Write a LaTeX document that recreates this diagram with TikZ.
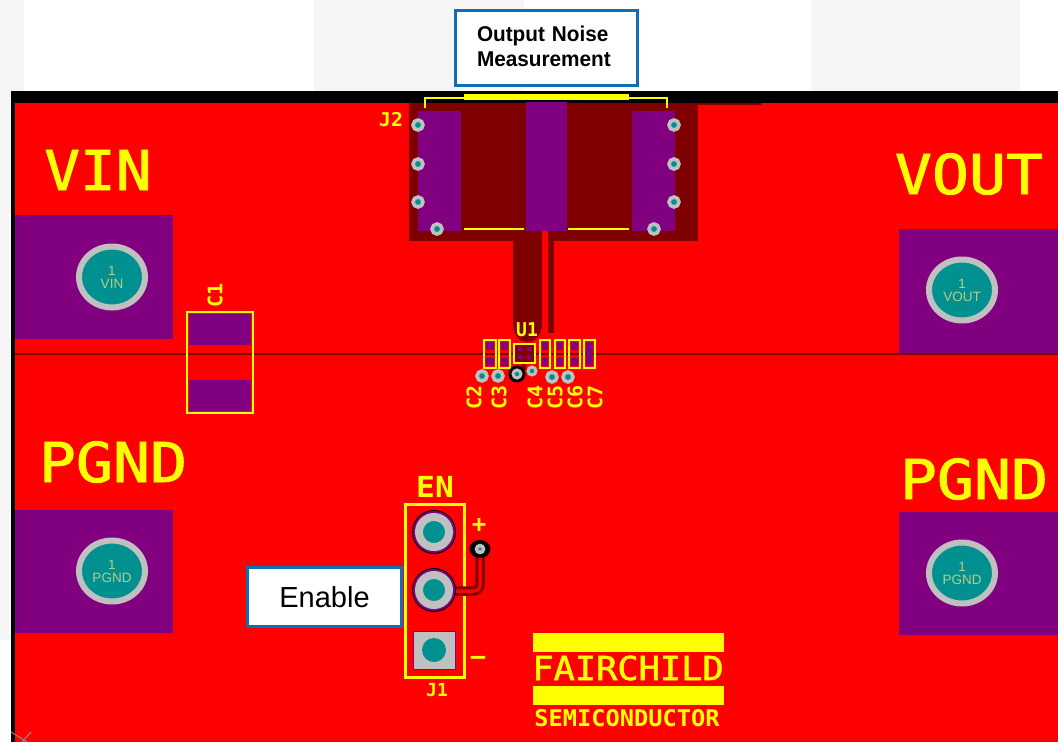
\documentclass[tikz,border=0pt]{standalone}
\usepackage{fontspec}
\setmainfont{Liberation Sans}
\newfontfamily\silkfont{DejaVu Sans Mono}
\newfontfamily\bigsilkfont[FakeBold=1.5]{DejaVu Sans Mono}
\usetikzlibrary{shapes.geometric}
\definecolor{copper}{HTML}{FF0000}
\definecolor{plane}{HTML}{7F0000}
\definecolor{padpurple}{HTML}{800080}
\definecolor{silk}{HTML}{FFFF00}
\definecolor{drill}{HTML}{009090}
\definecolor{ringgray}{HTML}{C0C0C0}
\definecolor{calloutblue}{HTML}{0F6FB5}
\definecolor{padtext}{HTML}{B8CC88}
\definecolor{sheetgray}{HTML}{F6F6F6}
\begin{document}
\begin{tikzpicture}[
    x=1pt, y=-1pt,
    padfill/.style={fill=padpurple, draw=none},
    silkline/.style={draw=silk, line width=2.6pt},
    via/.style={circle, fill=drill, draw=ringgray, line width=3.6pt, minimum size=10pt, inner sep=0pt},
    terminal/.style={ellipse, fill=drill, draw=ringgray, line width=6pt, minimum width=66pt, minimum height=61pt, inner sep=0pt, text=padtext, font=\fontsize{13.5}{15}\selectfont, align=center},
    header_pin/.style={circle, fill=drill, draw=ringgray, line width=8pt, minimum size=30pt, inner sep=0pt},
    silk_label/.style={text=silk, inner sep=0pt, font=\silkfont\bfseries\fontsize{19}{19}\selectfont},
    big_label/.style={text=silk, inner sep=0pt, font=\bigsilkfont\fontsize{55}{55}\selectfont},
    part_label/.style={silk_label, rotate=90, font=\silkfont\bfseries\fontsize{20}{20}\selectfont},
    callout/.style={rectangle, draw=calloutblue, line width=3pt, fill=white, align=left}
]
\useasboundingbox (0,0) rectangle (1058,742);

% Sheet and board
\fill[white] (0,0) rectangle (1058,742);
\fill[sheetgray] (0,0) rectangle (24,91);
\fill[sheetgray] (0,91) rectangle (11,640);
\fill[sheetgray] (314,0) rectangle (524,91);
\fill[sheetgray] (811,0) rectangle (1020,91);
\fill[black] (11,91) rectangle (1058,742);
\fill[copper] (15,103) rectangle (1058,742);
\fill[plane] (698,103) rectangle (762,105);
\draw[plane, line width=2.2pt] (15,354) -- (1058,354);
\draw[black!45, line width=1pt] (11,732) -- (27,742) (31,732) -- (22,742);

% Output connector J2
\fill[plane] (409,103) rectangle (698,241);
\fill[plane] (513,241) -- (513,325) .. controls (514,336) and (520,342) .. (527,342) .. controls (535,342) and (541,336) .. (542,325) -- (542,241) -- cycle;
\fill[plane] (548,241) rectangle (554,333);
\fill[copper] (542,231) rectangle (548,330);
\fill[padfill] (418,111) rectangle (461,231);
\fill[padfill] (526,102) rectangle (567,231);
\fill[padfill] (632,111) rectangle (675,231);
\draw[silkline] (425,108) -- (425,98) -- (667,98) -- (667,108);
\draw[silk, line width=5.5pt] (464,97) -- (629,97);
\draw[silkline] (464,229) -- (524,229);
\draw[silkline] (568,229) -- (629,229);
\node[via] (j2a) at (418,125) {};
\node[via] (j2b) at (418,164) {};
\node[via] (j2c) at (418,202) {};
\node[via] (j2d) at (437,229) {};
\node[via] (j2e) at (674,125) {};
\node[via] (j2f) at (674,164) {};
\node[via] (j2g) at (674,202) {};
\node[via] (j2h) at (654,229) {};
\node[silk_label] (j2) at (391,120) {\scalebox{1.05}[1]{J2}};

% Power terminals
\fill[padfill] (15,215) rectangle (173,339);
\fill[padfill] (899,229) rectangle (1058,353);
\fill[padfill] (15,510) rectangle (173,633);
\fill[padfill] (899,512) rectangle (1058,635);
\node[terminal] (vin) at (112,277) {1\\[-2pt]VIN};
\node[terminal] (vout) at (962,290) {1\\[-2pt]VOUT};
\node[terminal] (pgndl) at (112,571) {1\\[-2pt]PGND};
\node[terminal] (pgndr) at (962,573) {1\\[-2pt]PGND};
\node[big_label] (vinlabel) at (98,170) {\scalebox{1.08}[1]{VIN}};
\node[big_label] (voutlabel) at (969,174) {\scalebox{1.12}[1]{VOUT}};
\node[big_label] (pgndllabel) at (113,462) {\scalebox{1.12}[1]{PGND}};
\node[big_label] (pgndrlabel) at (974,479) {\scalebox{1.12}[1]{PGND}};

% Input capacitor C1
\fill[padfill] (189,314) rectangle (251,345);
\fill[padfill] (189,380) rectangle (251,411);
\draw[silk, line width=2pt] (187,312) rectangle (253,413);
\node[part_label] (c1) at (215,295) {C1};

% Regulator U1 and small capacitors
\fill[plane] (514,344) rectangle (535,363);
\fill[padfill] (486,342) rectangle (494,350);
\fill[padfill] (486,358) rectangle (494,366);
\fill[padfill] (501,342) rectangle (508,350);
\fill[padfill] (501,358) rectangle (508,366);
\fill[padfill] (542,342) rectangle (548,350);
\fill[padfill] (542,358) rectangle (548,366);
\fill[padfill] (557,342) rectangle (563,350);
\fill[padfill] (557,358) rectangle (563,366);
\fill[padfill] (571,342) rectangle (578,350);
\fill[padfill] (571,358) rectangle (578,366);
\fill[padfill] (586,342) rectangle (593,366);
\draw[silk, line width=1.8pt] (484,340) rectangle (496,368);
\draw[silk, line width=1.8pt] (499,340) rectangle (510,368);
\draw[silk, line width=1.8pt] (540,340) rectangle (550,368);
\draw[silk, line width=1.8pt] (555,340) rectangle (565,368);
\draw[silk, line width=1.8pt] (569,340) rectangle (580,368);
\draw[silk, line width=1.8pt] (584,340) rectangle (595,368);
\draw[silk, line width=1.8pt] (514,344) rectangle (535,363);
\fill[padpurple] (520,349) circle[radius=2.5];
\fill[padpurple] (529,349) circle[radius=2.5];
\fill[padpurple] (520,357) circle[radius=2.5];
\fill[padpurple] (529,357) circle[radius=2.5];
\fill[plane] (522,364) rectangle (526,370);
\node[via] (u1a) at (482,376) {};
\node[via] (u1b) at (498,376) {};
\fill[black] (517,374) circle[radius=8.5];
\node[via, minimum size=8pt, line width=3pt] (u1c) at (517,374) {};
\node[via, minimum size=8pt, line width=3pt] (u1d) at (532,371) {};
\node[via] (u1e) at (552,377) {};
\node[via] (u1f) at (568,377) {};
\node[silk_label] (u1) at (527,330) {\scalebox{0.95}[1]{U1}};
\node[part_label] (c2) at (474,397) {C2};
\node[part_label] (c3) at (499,397) {C3};
\node[part_label] (c4) at (535,397) {C4};
\node[part_label] (c5) at (555,397) {C5};
\node[part_label] (c6) at (575,397) {C6};
\node[part_label] (c7) at (595,397) {C7};

% Enable header J1
\draw[silk, line width=3pt] (405,504) rectangle (464,677);
\draw[plane, line width=9.5pt, rounded corners=7pt] (480,555) -- (480,591) -- (452,591);
\draw[copper, line width=3.5pt, rounded corners=6pt] (480,555) -- (480,591) -- (452,591);
\fill[black] (434,532) circle[radius=22];
\fill[padpurple] (434,532) circle[radius=21];
\fill[black] (434,590) circle[radius=22];
\fill[padpurple] (434,590) circle[radius=21];
\node[header_pin] (pin1) at (434,532) {};
\node[header_pin] (pin2) at (434,590) {};
\fill[padpurple] (413,631) rectangle (456,670);
\fill[ringgray] (414,632) rectangle (455,669);
\fill[drill] (434,650) circle[radius=12];
\fill[black] (480,549) ellipse[x radius=10.5, y radius=9];
\node[via, minimum size=7pt, line width=3.5pt] (envia) at (480,549) {};
\node[silk_label, font=\silkfont\bfseries\fontsize{29}{29}\selectfont] (en) at (435,487) {\scalebox{1.08}[1]{EN}};
\node[silk_label, font=\silkfont\bfseries\fontsize{24}{24}\selectfont] (plus) at (479,526) {+};
\node[silk_label, font=\silkfont\bfseries\fontsize{24}{24}\selectfont] (minus) at (478,660) {–};
\node[silk_label, font=\silkfont\bfseries\fontsize{18}{18}\selectfont] (j1) at (437,690) {J1};

% Logo
\fill[silk] (533,633) rectangle (724,652);
\fill[silk] (533,686) rectangle (724,705);
\node[silk_label, font=\bigsilkfont\fontsize{33}{33}\selectfont] (fairchild) at (628,668) {\scalebox{1.07}[1]{FAIRCHILD}};
\node[silk_label, font=\silkfont\bfseries\fontsize{23}{23}\selectfont] (semi) at (627,718) {\scalebox{1.03}[1]{SEMICONDUCTOR}};

% Callouts
\node[callout, font=\bfseries\fontsize{21.4}{25}\selectfont, minimum width=182pt, minimum height=75pt, text width=139pt, text depth=28pt] (noise) at (546.5,48) {\scalebox{0.97}[1]{Output Noise}\\\scalebox{0.97}[1]{Measurement}};
\node[callout, font=\fontsize{29}{32}\selectfont, minimum width=154pt, minimum height=59pt] (enable) at (324.5,597) {Enable};

\end{tikzpicture}
\end{document}
